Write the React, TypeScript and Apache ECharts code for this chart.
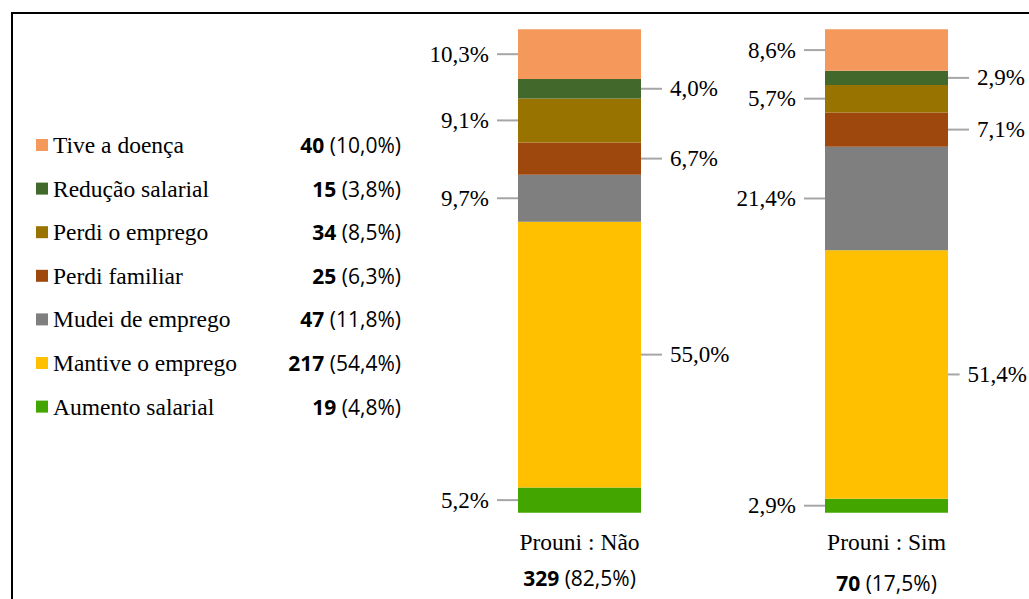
import React, { useEffect, useRef } from "react";
import * as echarts from "echarts";

// ---- data ----
const responses = [
  "Tive a doença",
  "Redução salarial",
  "Perdi o emprego",
  "Perdi familiar",
  "Mudei de emprego",
  "Mantive o emprego",
  "Aumento salarial",
];
const colors = ["#F4995B", "#43682B", "#997300", "#9E480E", "#7F7F7F", "#FFC000", "#43A600"];
const totalCounts = [40, 15, 34, 25, 47, 217, 19];
const totalPcts = [10.0, 3.8, 8.5, 6.3, 11.8, 54.4, 4.8];
const groups = ["Prouni : Não", "Prouni : Sim"];
const groupCounts = [329, 70];
const groupPcts = [82.5, 17.5];
const naoPcts = [10.3, 4.0, 9.1, 6.7, 9.7, 55.0, 5.2];
const simPcts = [8.6, 2.9, 5.7, 7.1, 21.4, 51.4, 2.9];

// ---- style constants ----
const SERIF = "Liberation Serif";
const SANS = "Open Sans";
const BAR_W = 123;
const LINE_LEN = 21;
const LABEL_GAP = 8;
const LABEL_FS = 23;

const fmt = (v: number) => v.toFixed(1).replace(".", ",") + "%";

let measureCtx: CanvasRenderingContext2D | null = null;
const textWidth = (t: string, font: string) => {
  if (!measureCtx) measureCtx = document.createElement("canvas").getContext("2d");
  if (!measureCtx) return t.length * 11;
  measureCtx.font = font;
  return measureCtx.measureText(t).width;
};

export default function App() {
  const ref = useRef<HTMLDivElement>(null);

  useEffect(() => {
    if (!ref.current) return;
    const chart = echarts.init(ref.current, undefined, { renderer: "svg" });

    const groupVals = [naoPcts, simPcts];
    // stacked bars: bottom series first
    const order = responses.map((_, i) => i).reverse();
    const barSeries = order.map((i) => ({
      name: responses[i],
      type: "bar",
      stack: "s",
      barWidth: BAR_W,
      data: groupVals.map((g) => g[i]),
      itemStyle: { color: colors[i] },
      silent: true,
    }));

    // label items: [group, low, high, pct, side]
    const labelData: number[][] = [];
    groupVals.forEach((vals, g) => {
      let cum = 0;
      order.forEach((i, k) => {
        const low = cum;
        cum += vals[i];
        labelData.push([g, low, cum, vals[i], k % 2 === 0 ? -1 : 1]);
      });
    });

    const labelSeries = {
      type: "custom",
      silent: true,
      z: 10,
      clip: false,
      encode: { x: 0, y: [1, 2] },
      data: labelData,
      renderItem: (params: any, api: any) => {
        const g = api.value(0);
        const low = api.value(1);
        const high = api.value(2);
        const pct = api.value(3);
        const side = api.value(4);
        const p = api.coord([g, (low + high) / 2]);
        const edge = p[0] + side * (BAR_W / 2);
        const txt = fmt(pct);
        let textX = edge + side * (LINE_LEN + LABEL_GAP);
        if (side > 0) {
          const w = textWidth(txt, `${LABEL_FS}px "${SERIF}"`);
          const maxX = api.getWidth() - 2 - w;
          if (textX > maxX) textX = maxX;
        }
        const lineEnd = textX - side * LABEL_GAP;
        return {
          type: "group",
          children: [
            {
              type: "line",
              shape: { x1: edge, y1: p[1], x2: lineEnd, y2: p[1] },
              style: { stroke: "#A6A6A6", lineWidth: 2 },
            },
            {
              type: "text",
              x: textX,
              y: p[1],
              style: {
                text: txt,
                fill: "#000",
                fontFamily: SERIF,
                fontSize: LABEL_FS,
                align: side < 0 ? "right" : "left",
                verticalAlign: "middle",
              },
            },
          ],
        };
      },
    };

    const legendTop = 133;
    const rowStep = 43.6;
    const countTexts = responses.map((_, i) => ({
      type: "text",
      x: 401,
      y: legendTop + 12 + i * rowStep,
      style: {
        text: `{b|${totalCounts[i]}}{c| (${fmt(totalPcts[i])})}`,
        align: "right",
        verticalAlign: "middle",
        rich: {
          b: { fontFamily: SANS, fontWeight: "bold", fontSize: 21, fill: "#000" },
          c: { fontFamily: SANS, fontSize: 21, fill: "#000" },
        },
      },
    }));

    chart.setOption({
      animation: false,
      backgroundColor: "#fff",
      grid: { left: 579.5, width: 307, top: 29.3, bottom: 86.3 },
      xAxis: {
        type: "category",
        data: groups,
        boundaryGap: false,
        axisLine: { show: false },
        axisTick: { show: false },
        splitLine: { show: false },
        axisLabel: {
          interval: 0,
          margin: 11,
          formatter: (v: string, idx: number) => {
            const s = idx === 0 ? "" : "2";
            return `{a|${v}}\n{b${s}|${groupCounts[idx]}}{c${s}| (${fmt(groupPcts[idx])})}`;
          },
          rich: {
            a: { fontFamily: SERIF, fontSize: 23.5, color: "#000", lineHeight: 36 },
            b: { fontFamily: SANS, fontWeight: "bold", fontSize: 21, color: "#000", lineHeight: 36 },
            c: { fontFamily: SANS, fontSize: 21, color: "#000", lineHeight: 36 },
            b2: { fontFamily: SANS, fontWeight: "bold", fontSize: 21, color: "#000", lineHeight: 46 },
            c2: { fontFamily: SANS, fontSize: 21, color: "#000", lineHeight: 46 },
          },
        },
      },
      yAxis: { type: "value", min: 0, max: 100, show: false },
      legend: {
        orient: "vertical",
        left: 36,
        top: legendTop,
        padding: 0,
        icon: "rect",
        itemWidth: 12,
        itemHeight: 12,
        itemGap: rowStep - 24,
        selectedMode: false,
        data: responses,
        textStyle: { fontFamily: SERIF, fontSize: 23.5, color: "#000", lineHeight: 24 },
      },
      graphic: [
        {
          type: "rect",
          shape: { x: 12, y: 13, width: 1100, height: 700 },
          style: { fill: "none", stroke: "#000", lineWidth: 2 },
          silent: true,
        },
        ...countTexts,
      ],
      series: [...barSeries, labelSeries],
    });

    return () => chart.dispose();
  }, []);

  return (
    <div
      ref={ref}
      style={{ position: "fixed", left: 0, top: 0, width: 1029, height: 599 }}
    />
  );
}
